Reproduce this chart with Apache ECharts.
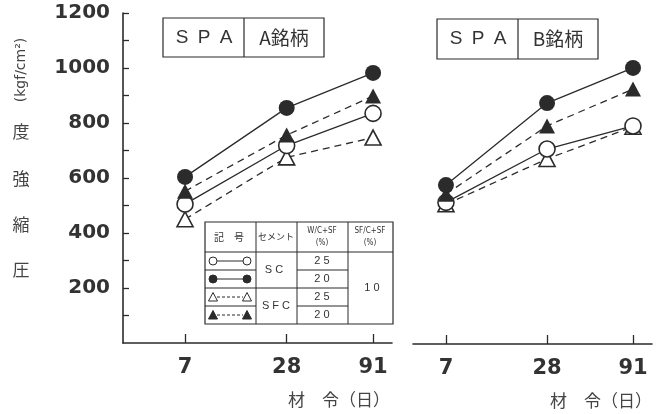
<!DOCTYPE html>
<html>
<head>
<meta charset="utf-8">
<script src="https://cdn.jsdelivr.net/npm/echarts@6/dist/echarts.min.js"></script>
<style>
  html, body { margin: 0; padding: 0; background: #fff; }
  #chart { width: 657px; height: 414px; }
</style>
</head>
<body>
<div id="chart"></div>
<script>
// 材令 (days)
const ages = [7, 28, 91];
// compressive strength axis (kgf/cm2)
const strengthLabels = [200, 400, 600, 800, 1000, 1200];
const strengthTicks = [100, 200, 300, 400, 500, 600, 700, 800, 900, 1000, 1100, 1200];

// SPA A銘柄
const aSC25 = [505, 718, 835];
const aSC20 = [604, 855, 982];
const aSFC25 = [450, 675, 747];
const aSFC20 = [552, 756, 898];

// SPA B銘柄
const bSC25 = [515, 709, 793];
const bSC20 = [578, 876, 1004];
const bSFC25 = [508, 673, 790];
const bSFC20 = [545, 793, 927];

// legend table contents
const cementTypes = ['SC', 'SFC'];
const wcRatios = ['25', '20', '25', '20'];
const sfRatio = '10';

const INK = '#2b2b2b';
const TEXT = '#333';
const NUM_FONT = 'DejaVu Sans';
const JP_FONT = 'Noto Sans CJK JP';
const LATIN_FONT = 'Liberation Sans';

function pairs(vals) { return ages.map((d, i) => [d, vals[i]]); }

function lineSeries(name, vals, grid, symbol, filled, dashed) {
  return {
    name, type: 'line',
    xAxisIndex: grid, yAxisIndex: grid,
    data: pairs(vals),
    symbol, symbolSize: symbol === 'circle' ? 16 : [16, 15],
    showSymbol: true,
    lineStyle: { color: INK, width: 1.3, type: dashed ? [7, 5] : 'solid' },
    itemStyle: { color: filled ? INK : '#fff', borderColor: INK, borderWidth: filled ? 0 : 1.6 },
    emphasis: { disabled: true },
    animation: false, z: 3
  };
}

function xAxisFor(grid, min, max) {
  return {
    type: 'log', logBase: 10, gridIndex: grid, min, max,
    axisLine: { show: true, onZero: false, lineStyle: { color: INK, width: 1.6 } },
    axisTick: { show: true, inside: true, length: 9, customValues: ages, lineStyle: { color: INK, width: 1.3 } },
    axisLabel: { customValues: ages, formatter: v => String(v), margin: 14,
      fontFamily: NUM_FONT, fontWeight: 'bold', fontSize: 21, color: TEXT },
    splitLine: { show: false }, minorTick: { show: false }, minorSplitLine: { show: false }
  };
}

function yAxisFor(grid, visible) {
  return {
    type: 'value', gridIndex: grid, min: 0, max: 1200,
    show: visible,
    axisLine: { show: true, lineStyle: { color: INK, width: 1.6 } },
    axisTick: { show: true, inside: true, length: 6, customValues: strengthTicks, lineStyle: { color: INK, width: 1.3 } },
    axisLabel: { customValues: strengthLabels, formatter: v => String(v), margin: 13,
      fontFamily: NUM_FONT, fontWeight: 'bold', fontSize: 20, color: TEXT },
    splitLine: { show: false }
  };
}

// ---- decorations: title boxes, y title, x names, legend table ----
const graphics = [];
function txt(x, y, text, size, family, opts) {
  graphics.push(Object.assign({
    type: 'text', x, y,
    style: Object.assign({
      text, fill: TEXT, fontSize: size, fontFamily: family || JP_FONT,
      align: 'center', verticalAlign: 'middle'
    }, (opts && opts.style) || {})
  }, (opts && opts.el) || {}));
}
function seg(x1, y1, x2, y2, w, dash) {
  graphics.push({ type: 'line', shape: { x1, y1, x2, y2 },
    style: { stroke: INK, lineWidth: w || 1, lineDash: dash || null } });
}
function box(x, y, w, h) {
  graphics.push({ type: 'rect', shape: { x, y, width: w, height: h },
    style: { fill: 'none', stroke: INK, lineWidth: 1.2 } });
}
function spaced(x, y, word, gap, size) {
  word.split('').forEach((ch, i) => txt(x + i * gap, y, ch, size, LATIN_FONT));
}

// title boxes
box(163, 18, 161, 39); seg(244, 18, 244, 57, 1.2);
spaced(182, 38, 'SPA', 22, 19);
txt(284, 38, 'A銘柄', 19);
box(437, 19, 161, 40); seg(518, 19, 518, 59, 1.2);
spaced(456, 39, 'SPA', 22, 19);
txt(558, 39, 'B銘柄', 19);

// y-axis title: upright kanji, rotated unit
const yTitleChars = ['度', '強', '縮', '圧'];
const yTitleY = [132, 179, 225, 270];
yTitleChars.forEach((c, i) => txt(21, yTitleY[i], c, 17, JP_FONT, { style: { fill: '#444' } }));
txt(21, 70, '(kgf/cm²)', 14, NUM_FONT, { style: { fill: '#444' }, el: { rotation: Math.PI / 2 } });

// x-axis names
txt(339, 400, '材　令（日）', 17, JP_FONT, { style: { fill: '#444' } });
txt(601, 401, '材　令（日）', 17, JP_FONT, { style: { fill: '#444' } });

// legend table
const TX = [205, 256, 297, 348, 393];
const TY = [222, 252, 270, 288, 306, 324];
box(TX[0], TY[0], TX[4] - TX[0], TY[5] - TY[0]);
seg(TX[1], TY[0], TX[1], TY[5]); seg(TX[2], TY[0], TX[2], TY[5]); seg(TX[3], TY[0], TX[3], TY[5]);
seg(TX[0], TY[1], TX[4], TY[1]);
seg(TX[0], TY[2], TX[1], TY[2]); seg(TX[2], TY[2], TX[3], TY[2]);
seg(TX[0], TY[3], TX[3], TY[3]);
seg(TX[0], TY[4], TX[1], TY[4]); seg(TX[2], TY[4], TX[3], TY[4]);

const hdrY = (TY[0] + TY[1]) / 2;
const COND = 'DejaVu Sans Condensed';
txt(229, hdrY, '記　号', 10);
txt(276, hdrY, 'セメント', 9);
txt(322, hdrY - 6, 'W/C+SF', 8, COND);
txt(322, hdrY + 6, '(%)', 8, COND);
txt(370, hdrY - 6, 'SF/C+SF', 8, COND);
txt(370, hdrY + 6, '(%)', 8, COND);

const rowMid = i => (TY[i + 1] + TY[i + 2]) / 2;
txt(274, TY[2], cementTypes[0].split('').join(' '), 11, LATIN_FONT);
txt(276, TY[4], cementTypes[1].split('').join(' '), 11, LATIN_FONT);
wcRatios.forEach((v, i) => txt(322, rowMid(i), v.split('').join(' '), 11, LATIN_FONT));
txt(372, TY[3], sfRatio.split('').join(' '), 11, LATIN_FONT);

// legend symbols
const legendKinds = [
  { shape: 'circle', filled: false, dashed: false },
  { shape: 'circle', filled: true, dashed: false },
  { shape: 'triangle', filled: false, dashed: true },
  { shape: 'triangle', filled: true, dashed: true }
];
legendKinds.forEach((k, i) => {
  const y = rowMid(i);
  seg(217, y, 243, y, 1, k.dashed ? [3, 2] : null);
  [213, 247].forEach(cx => {
    const style = { fill: k.filled ? INK : '#fff', stroke: INK, lineWidth: 1 };
    if (k.shape === 'circle') {
      graphics.push({ type: 'circle', shape: { cx, cy: y, r: 4 }, style });
    } else {
      graphics.push({ type: 'polygon', shape: { points: [[cx, y - 4.5], [cx + 4.5, y + 4], [cx - 4.5, y + 4]] }, style });
    }
  });
});

const chart = echarts.init(document.getElementById('chart'), null, { renderer: 'canvas' });
chart.setOption({
  animation: false,
  backgroundColor: '#fff',
  grid: [
    { left: 123, top: 13, width: 269, height: 330 },
    { left: 413, top: 14, width: 239, height: 330 }
  ],
  xAxis: [xAxisFor(0, 3.003, 117.8), xAxisFor(1, 4.454, 118.1)],
  yAxis: [yAxisFor(0, true), yAxisFor(1, false)],
  series: [
    lineSeries('A SFC25', aSFC25, 0, 'triangle', false, true),
    lineSeries('A SC25', aSC25, 0, 'circle', false, false),
    lineSeries('A SFC20', aSFC20, 0, 'triangle', true, true),
    lineSeries('A SC20', aSC20, 0, 'circle', true, false),
    lineSeries('B SFC25', bSFC25, 1, 'triangle', false, true),
    lineSeries('B SC25', bSC25, 1, 'circle', false, false),
    lineSeries('B SFC20', bSFC20, 1, 'triangle', true, true),
    lineSeries('B SC20', bSC20, 1, 'circle', true, false)
  ],
  graphic: graphics
});
</script>
</body>
</html>
